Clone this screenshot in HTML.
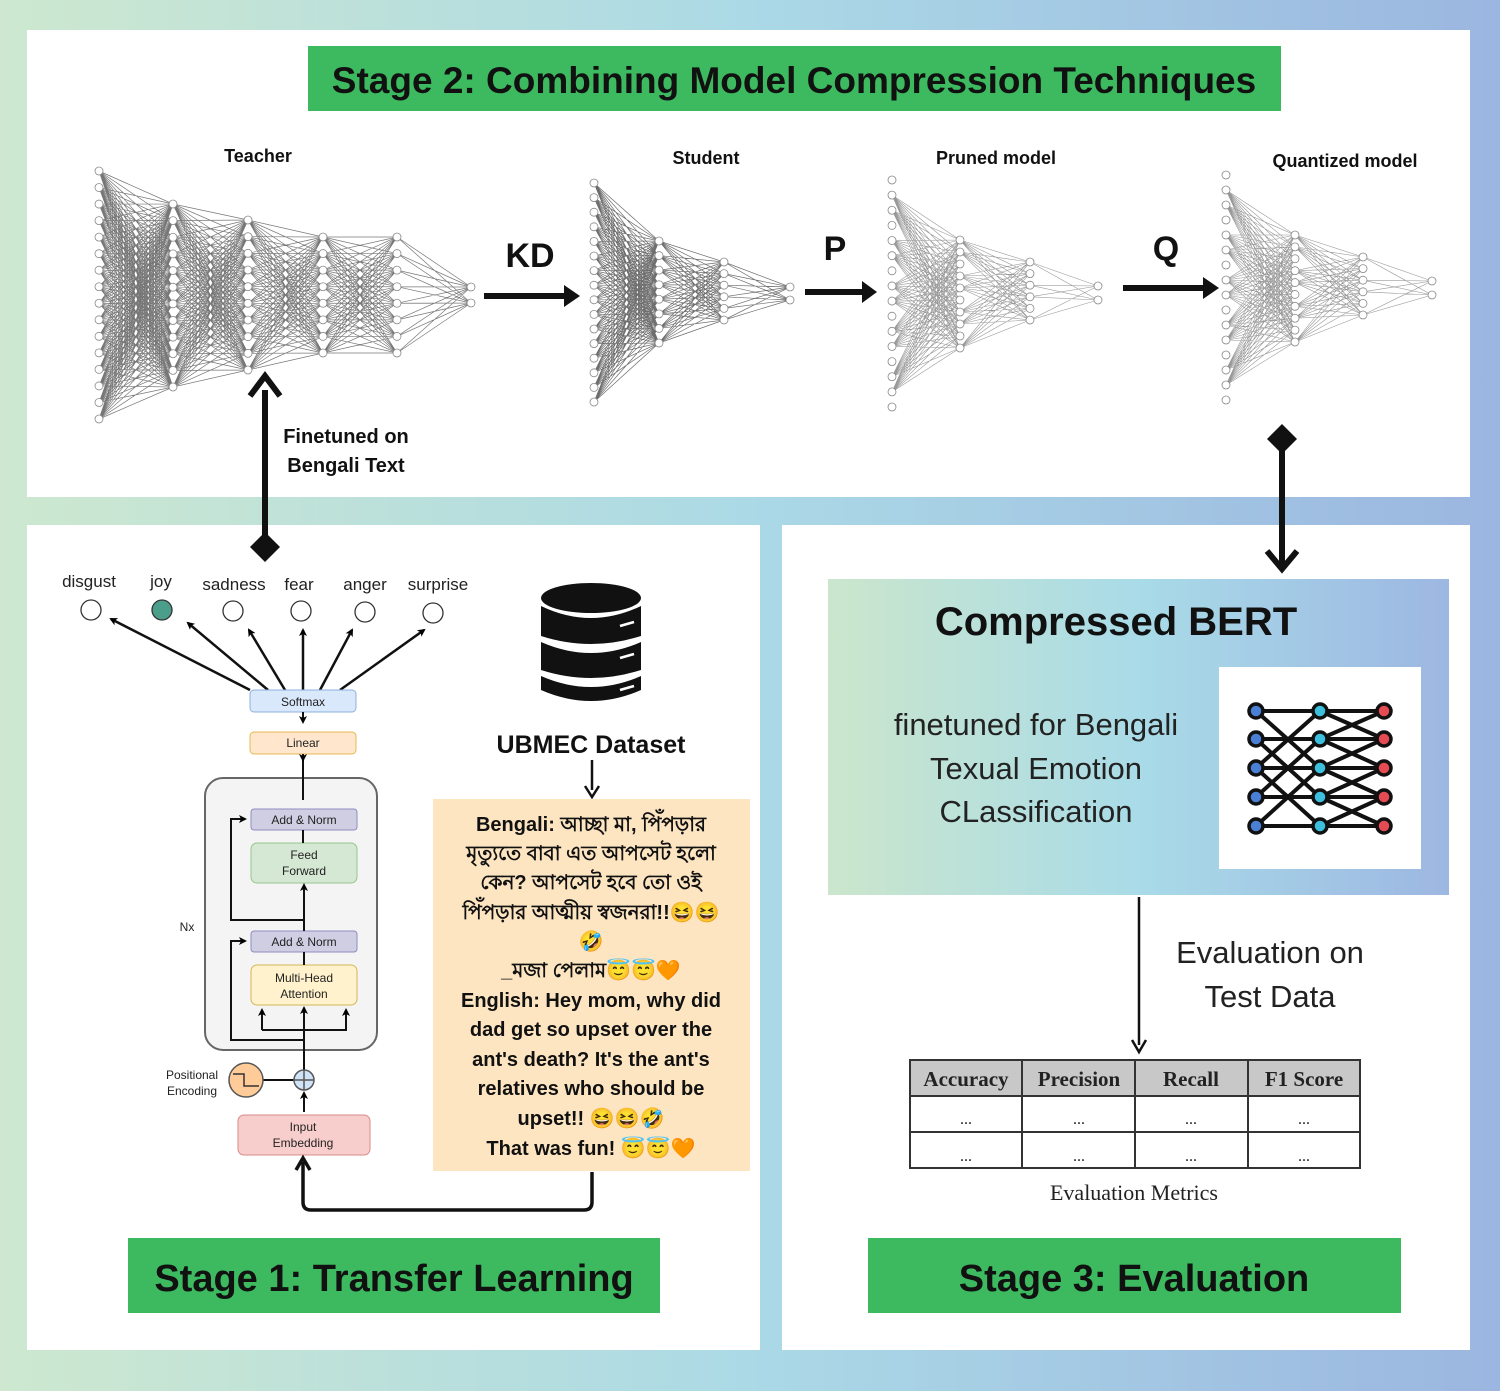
<!DOCTYPE html>
<html><head><meta charset="utf-8">
<style>
html,body{margin:0;padding:0}
body{width:1500px;height:1391px;overflow:hidden;font-family:"Liberation Sans","Noto Sans CJK SC",sans-serif}
</style></head><body>
<svg id="s" width="1500" height="1391" viewBox="0 0 1500 1391" xmlns="http://www.w3.org/2000/svg">
<defs>
<linearGradient id="bg" x1="0" y1="0" x2="1" y2="0">
<stop offset="0" stop-color="#cde8cf"/><stop offset="0.5" stop-color="#abd9e6"/><stop offset="1" stop-color="#9bb6e0"/>
</linearGradient>
<linearGradient id="cb" x1="0" y1="0" x2="1" y2="0">
<stop offset="0" stop-color="#cbe6cc"/><stop offset="0.5" stop-color="#a9dbe8"/><stop offset="1" stop-color="#9db7e2"/>
</linearGradient>
<marker id="ah" markerWidth="8" markerHeight="8" refX="6" refY="4" orient="auto" markerUnits="userSpaceOnUse"><path d="M0,0 L8,4 L0,8 L2,4Z" fill="#000"/></marker>
</defs>
<rect width="1500" height="1391" fill="url(#bg)"/>
<rect x="27" y="30" width="1443" height="467" fill="#fff"/>
<rect x="27" y="525" width="733" height="825" fill="#fff"/>
<rect x="782" y="525" width="688" height="825" fill="#fff"/>

<rect x="308" y="46" width="973" height="65" fill="#3dba5f"/>
<text x="794" y="93" font-size="37" font-weight="bold" text-anchor="middle" fill="#111">Stage 2: Combining Model Compression Techniques</text>

<g id="nets" fill="none"></g>

<g font-size="18" font-weight="bold" fill="#111" text-anchor="middle">
<text x="258" y="162">Teacher</text>
<text x="706" y="164">Student</text>
<text x="996" y="164">Pruned model</text>
<text x="1345" y="167">Quantized model</text>
</g>
<g font-size="34" font-weight="bold" fill="#111" text-anchor="middle">
<text x="530" y="267">KD</text>
<text x="835" y="260">P</text>
<text x="1166" y="260">Q</text>
</g>
<g stroke="#111" stroke-width="6">
<line x1="484" y1="296" x2="566" y2="296"/>
<line x1="805" y1="292" x2="864" y2="292"/>
<line x1="1123" y1="288" x2="1205" y2="288"/>
</g>
<g fill="#111">
<path d="M564,285 L580,296 L564,307Z"/>
<path d="M862,281 L877,292 L862,303Z"/>
<path d="M1203,277 L1219,288 L1203,299Z"/>
</g>

<line x1="265" y1="390" x2="265" y2="540" stroke="#111" stroke-width="6"/>
<path d="M250,396 L265,376 L280,396" fill="none" stroke="#111" stroke-width="6"/>
<path d="M265,532 L280,547 L265,562 L250,547Z" fill="#111"/>
<text x="346" y="443" font-size="20" font-weight="bold" text-anchor="middle" fill="#111">Finetuned on</text>
<text x="346" y="472" font-size="20" font-weight="bold" text-anchor="middle" fill="#111">Bengali Text</text>

<line x1="1282" y1="445" x2="1282" y2="565" stroke="#111" stroke-width="6"/>
<path d="M1282,424 L1297,439 L1282,454 L1267,439Z" fill="#111"/>
<path d="M1267,551 L1282,569 L1297,551" fill="none" stroke="#111" stroke-width="6"/>

<g font-size="17" fill="#222" text-anchor="middle">
<text x="89" y="587">disgust</text><text x="161" y="587">joy</text><text x="234" y="590">sadness</text>
<text x="299" y="590">fear</text><text x="365" y="590">anger</text><text x="438" y="590">surprise</text>
</g>
<g stroke="#333" stroke-width="1.3" fill="#fff">
<circle cx="91" cy="610" r="10"/><circle cx="162" cy="610" r="10" fill="#4a9e8a"/><circle cx="233" cy="611" r="10"/>
<circle cx="301" cy="611" r="10"/><circle cx="365" cy="612" r="10"/><circle cx="433" cy="613" r="10"/>
</g>
<g stroke="#111" stroke-width="2.5" marker-end="url(#ah)">
<line x1="250" y1="690" x2="111" y2="619"/>
<line x1="268" y1="690" x2="188" y2="623"/>
<line x1="285" y1="690" x2="249" y2="630"/>
<line x1="303" y1="690" x2="303" y2="630"/>
<line x1="320" y1="690" x2="352" y2="630"/>
<line x1="340" y1="690" x2="424" y2="630"/>
</g>

<g font-size="12" fill="#222" text-anchor="middle">
<rect x="205" y="778" width="172" height="272" rx="18" fill="#f4f4f4" stroke="#666" stroke-width="2"/>
<rect x="250" y="690" width="106" height="22" rx="4" fill="#dae8fc" stroke="#8fb0dd"/><text x="303" y="706">Softmax</text>
<rect x="250" y="732" width="106" height="22" rx="4" fill="#ffe6cc" stroke="#e6b84f"/><text x="303" y="747">Linear</text>
<rect x="251" y="809" width="106" height="21" rx="3" fill="#d0cee2" stroke="#8f8cc0"/><text x="304" y="824">Add &amp; Norm</text>
<rect x="251" y="843" width="106" height="40" rx="6" fill="#d5e8d4" stroke="#97c58e"/><text x="304" y="859">Feed</text><text x="304" y="875">Forward</text>
<rect x="251" y="931" width="106" height="21" rx="3" fill="#d0cee2" stroke="#8f8cc0"/><text x="304" y="946">Add &amp; Norm</text>
<rect x="251" y="965" width="106" height="40" rx="6" fill="#fff2cc" stroke="#d6b656"/><text x="304" y="982">Multi-Head</text><text x="304" y="998">Attention</text>
<rect x="238" y="1115" width="132" height="40" rx="6" fill="#f8cecc" stroke="#d88a88"/><text x="303" y="1131">Input</text><text x="303" y="1147">Embedding</text>
<text x="187" y="931">Nx</text>
<text x="192" y="1079">Positional</text><text x="192" y="1095">Encoding</text>
</g>
<g stroke="#111" stroke-width="2" fill="none">
<line x1="303" y1="712" x2="303" y2="722" marker-end="url(#ah)"/>
<line x1="303" y1="754" x2="303" y2="800"/>
<line x1="303" y1="754" x2="303" y2="760" marker-end="url(#ah)"/>
<line x1="303" y1="830" x2="303" y2="843"/>
<line x1="304" y1="920" x2="304" y2="885" marker-end="url(#ah)"/>
<line x1="304" y1="952" x2="304" y2="965"/>
<path d="M304,920 H231 V819 H245" marker-end="url(#ah)"/>
<line x1="304" y1="931" x2="304" y2="920"/>
<path d="M304,1040 H231 V941 H245" marker-end="url(#ah)"/>
<line x1="304" y1="1070" x2="304" y2="1008" marker-end="url(#ah)"/>
<path d="M262,1030 V1010 M262,1030 H346 V1010"/>
<line x1="262" y1="1030" x2="262" y2="1010" marker-end="url(#ah)"/>
<line x1="346" y1="1030" x2="346" y2="1010" marker-end="url(#ah)"/>
<line x1="304" y1="1112" x2="304" y2="1093" marker-end="url(#ah)"/>
<line x1="263" y1="1080" x2="294" y2="1080"/>
<path d="M592,1172 V1202 Q592,1210 584,1210 H311 Q303,1210 303,1202 V1162" stroke-width="3.5"/>
<path d="M296,1170 L303,1158 L310,1170" stroke-width="3.5"/>
</g>
<circle cx="246" cy="1080" r="17" fill="#ffcc99" stroke="#555" stroke-width="1.5"/>
<path d="M233,1074 H244 V1086 H259" fill="none" stroke="#333" stroke-width="1.5"/>
<circle cx="304" cy="1080" r="10" fill="#cfe4f7" stroke="#555" stroke-width="1.5"/>
<path d="M294,1080 H314 M304,1070 V1090" stroke="#555" stroke-width="1.5"/>

<g fill="#111">
<ellipse cx="591" cy="598" rx="50" ry="15"/>
<path d="M541,606 Q591,630 641,606 V636 Q591,652 541,636Z"/>
<path d="M541,642 Q591,664 641,642 V670 Q591,686 541,670Z"/>
<path d="M541,676 Q591,698 641,676 V690 Q591,712 541,690Z"/>
</g>
<g stroke="#fff" stroke-width="2.5"><line x1="620" y1="626" x2="634" y2="622"/><line x1="620" y1="658" x2="634" y2="654"/><line x1="620" y1="690" x2="634" y2="686"/></g>
<text x="591" y="753" font-size="25" font-weight="bold" text-anchor="middle" fill="#111">UBMEC Dataset</text>
<line x1="592" y1="760" x2="592" y2="790" stroke="#111" stroke-width="2.5"/>
<path d="M585,786 L592,797 L599,786" fill="none" stroke="#111" stroke-width="2.5"/>

<rect x="433" y="799" width="317" height="372" fill="#fde5c2"/>
<g font-size="20" font-weight="bold" text-anchor="middle" fill="#111" font-family="'Liberation Sans','Noto Sans CJK SC',sans-serif">
<text x="591" y="831">Bengali: আচ্ছা মা, পিঁপড়ার</text>
<text x="591" y="860">মৃত্যুতে বাবা এত আপসেট হলো</text>
<text x="591" y="889">কেন? আপসেট হবে তো ওই</text>
<text x="591" y="919">পিঁপড়ার আত্মীয় স্বজনরা!!😆😆</text>
<text x="591" y="948">🤣</text>
<text x="591" y="977">_মজা পেলাম😇😇🧡</text>
<text x="591" y="1007">English: Hey mom, why did</text>
<text x="591" y="1036">dad get so upset over the</text>
<text x="591" y="1066">ant's death? It's the ant's</text>
<text x="591" y="1095">relatives who should be</text>
<text x="591" y="1125">upset!! 😆😆🤣</text>
<text x="591" y="1155">That was fun! 😇😇🧡</text>
</g>

<rect x="128" y="1238" width="532" height="75" fill="#3dba5f"/>
<text x="394" y="1291" font-size="38" font-weight="bold" text-anchor="middle" fill="#111">Stage 1: Transfer Learning</text>
<rect x="868" y="1238" width="533" height="75" fill="#3dba5f"/>
<text x="1134" y="1291" font-size="38" font-weight="bold" text-anchor="middle" fill="#111">Stage 3: Evaluation</text>

<rect x="828" y="579" width="621" height="316" fill="url(#cb)"/>
<text x="1116" y="635" font-size="40" font-weight="bold" text-anchor="middle" fill="#111">Compressed BERT</text>
<g font-size="31" text-anchor="middle" fill="#222">
<text x="1036" y="735">finetuned for Bengali</text>
<text x="1036" y="779">Texual Emotion</text>
<text x="1036" y="822">CLassification</text>
</g>
<rect x="1219" y="667" width="202" height="202" fill="#fff"/>
<g id="bert"></g>

<line x1="1139" y1="897" x2="1139" y2="1045" stroke="#111" stroke-width="2.5"/>
<path d="M1132,1040 L1139,1052 L1146,1040" fill="none" stroke="#111" stroke-width="2.5"/>
<g font-size="31" text-anchor="middle" fill="#222"><text x="1270" y="963">Evaluation on</text><text x="1270" y="1007">Test Data</text></g>

<g font-family="'Liberation Serif',serif" fill="#222" text-anchor="middle">
<rect x="910" y="1060" width="450" height="36" fill="#c8c8c8"/>
<g font-size="21" font-weight="bold"><text x="966" y="1086">Accuracy</text><text x="1079" y="1086">Precision</text><text x="1191" y="1086">Recall</text><text x="1304" y="1086">F1 Score</text></g>
<g font-size="16"><text x="966" y="1124">...</text><text x="1079" y="1124">...</text><text x="1191" y="1124">...</text><text x="1304" y="1124">...</text>
<text x="966" y="1161">...</text><text x="1079" y="1161">...</text><text x="1191" y="1161">...</text><text x="1304" y="1161">...</text></g>
<text x="1134" y="1200" font-size="22">Evaluation Metrics</text>
<g stroke="#333" stroke-width="2" fill="none">
<rect x="910" y="1060" width="450" height="108"/>
<line x1="910" y1="1096" x2="1360" y2="1096"/><line x1="910" y1="1132" x2="1360" y2="1132"/>
<line x1="1022" y1="1060" x2="1022" y2="1168"/><line x1="1135" y1="1060" x2="1135" y2="1168"/><line x1="1248" y1="1060" x2="1248" y2="1168"/>
</g>
</g>
</svg>
<script>
var NS="http://www.w3.org/2000/svg";
var g=document.getElementById("nets");
function net(layers,op,sparse,w){
  var pts=layers.map(function(L){var a=[];for(var i=0;i<L.n;i++)a.push([L.x,L.n==1?L.y0:L.y0+(L.y1-L.y0)*i/(L.n-1)]);return a;});
  var d="";
  for(var l=0;l<pts.length-1;l++)for(var i=0;i<pts[l].length;i++)for(var j=0;j<pts[l+1].length;j++){if(sparse&&((i*7+j*3+l)%3==0))continue;
    d+="M"+pts[l][i][0]+","+pts[l][i][1]+"L"+pts[l+1][j][0]+","+pts[l+1][j][1];}
  var p=document.createElementNS(NS,"path");p.setAttribute("d",d);p.setAttribute("stroke","#555");p.setAttribute("stroke-width",w);p.setAttribute("stroke-opacity",op);g.appendChild(p);
  pts.forEach(function(a){a.forEach(function(q){var c=document.createElementNS(NS,"circle");c.setAttribute("cx",q[0]);c.setAttribute("cy",q[1]);c.setAttribute("r",4);c.setAttribute("fill","#fff");c.setAttribute("stroke","#888");c.setAttribute("stroke-width","0.8");g.appendChild(c);});});
}
net([{x:99,n:16,y0:171,y1:419},{x:173,n:12,y0:204,y1:387},{x:248,n:10,y0:220,y1:370},{x:323,n:8,y0:237,y1:353},{x:397,n:8,y0:237,y1:353},{x:471,n:2,y0:287,y1:303}],0.8,false,0.7);
net([{x:594,n:16,y0:183,y1:402},{x:659,n:8,y0:241,y1:343},{x:724,n:6,y0:262,y1:320},{x:790,n:2,y0:287,y1:300}],0.85,false,0.7);
net([{x:892,n:16,y0:180,y1:407},{x:960,n:10,y0:240,y1:348},{x:1030,n:6,y0:262,y1:320},{x:1098,n:2,y0:286,y1:300}],0.6,true,0.6);
net([{x:1226,n:16,y0:175,y1:400},{x:1295,n:10,y0:235,y1:342},{x:1363,n:6,y0:257,y1:315},{x:1432,n:2,y0:281,y1:295}],0.6,true,0.6);
var b=document.getElementById("bert");
var cols=[[1256,"#4a7fd6"],[1320,"#3cc0dd"],[1384,"#e64a52"]],ys=[711,739,768,797,826];
var d="";
for(var c=0;c<2;c++)for(var i=0;i<5;i++)for(var j=0;j<5;j++){if(Math.abs(i-j)<=2&&((i+j+c)%2==0||i==j))d+="M"+cols[c][0]+","+ys[i]+"L"+cols[c+1][0]+","+ys[j];}
var p=document.createElementNS(NS,"path");p.setAttribute("d",d);p.setAttribute("stroke","#111");p.setAttribute("stroke-width","4");b.appendChild(p);
cols.forEach(function(cc){ys.forEach(function(y){var c=document.createElementNS(NS,"circle");c.setAttribute("cx",cc[0]);c.setAttribute("cy",y);c.setAttribute("r",7);c.setAttribute("fill",cc[1]);c.setAttribute("stroke","#111");c.setAttribute("stroke-width","3.5");b.appendChild(c);});});
</script>
</body></html>
